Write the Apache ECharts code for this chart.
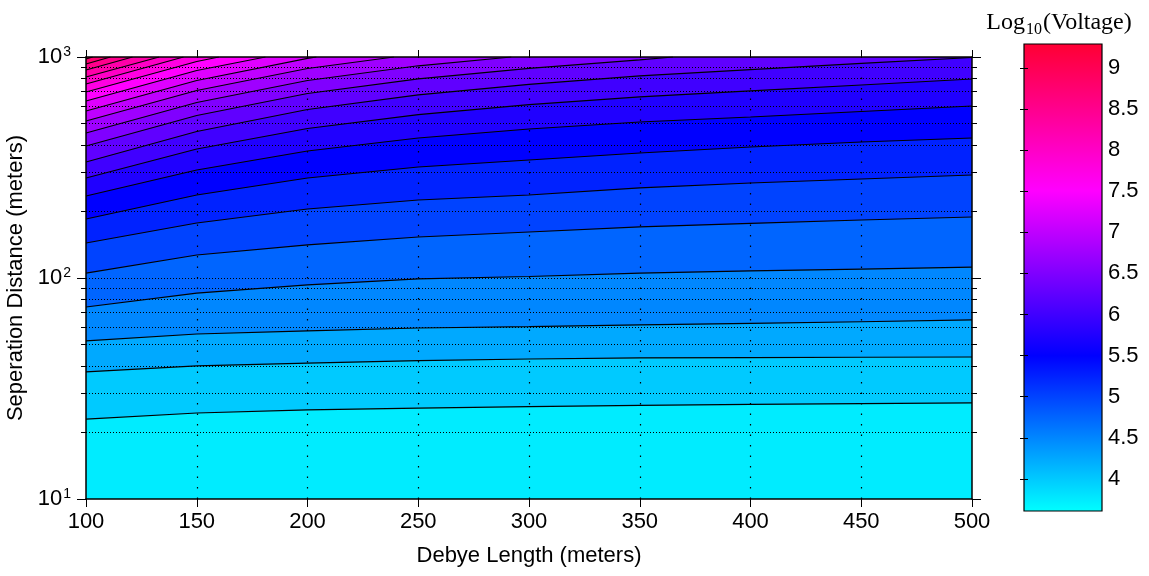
<!DOCTYPE html>
<html><head><meta charset="utf-8">
<script src="https://cdn.jsdelivr.net/npm/echarts@6/dist/echarts.min.js"></script>
<style>html,body{margin:0;padding:0;background:#fff}#c{width:1149px;height:576px}</style>
</head><body><div id="c"></div>
<script>
// ---------- data ----------
const debyeLengths = [100, 150, 200, 250, 300, 350, 400, 450, 500];
const contourLevels = [3.75, 4.0, 4.25, 4.5, 4.75, 5.0, 5.25, 5.5, 5.75, 6.0, 6.25, 6.5, 6.75, 7.0, 7.25, 7.5, 7.75, 8.0, 8.25, 8.5, 8.75];
// separation distance (m) of each contour at each Debye length (null = above 1000 m)
const contourY = [
  [23.0, 24.5, 25.3, 25.8, 26.2, 26.5, 26.8, 27.0, 27.2],
  [37.6, 40.0, 41.2, 42.3, 43.0, 43.5, 43.6, 43.8, 43.9],
  [51.9, 55.8, 57.6, 59.4, 60.2, 61.3, 62.3, 63.4, 64.6],
  [73.9, 85.5, 93.0, 99.0, 101.6, 105.3, 107.6, 109.8, 112.1],
  [105.3, 127.1, 141.1, 153.3, 161.5, 170.2, 176.5, 183.0, 188.8],
  [144.0, 177.4, 205.2, 225.4, 237.5, 255.5, 269.1, 280.5, 292.5],
  [184.9, 237.5, 283.5, 317.9, 342.0, 367.8, 391.5, 412.5, 430.0],
  [235.0, 308.1, 375.5, 430.0, 472.4, 508.0, 535.2, 566.8, 600.2],
  [283.5, 383.4, 474.9, 548.9, 608.4, 660.6, 702.4, 746.9, 795.2],
  [334.9, 460.2, 578.7, 674.5, 752.4, 821.2, 877.0, 936.5, 995.0],
  [395.6, 543.7, 683.6, 796.8, 889.0, 970.2, null, null, null],
  [453.1, 622.4, 782.8, 912.6, null, null, null, null, null],
  [513.3, 705.4, 887.2, null, null, null, null, null, null],
  [569.8, 782.8, 985.0, null, null, null, null, null, null],
  [632.3, 868.8, null, null, null, null, null, null, null],
  [694.4, 954.1, null, null, null, null, null, null, null],
  [754.7, null, null, null, null, null, null, null, null],
  [812.0, null, null, null, null, null, null, null, null],
  [873.4, null, null, null, null, null, null, null, null],
  [929.5, null, null, null, null, null, null, null, null],
  [979.5, null, null, null, null, null, null, null, null]
];
// Debye length where a contour leaves through the 1000 m edge (null = it does not)
const contourExitX = [null, null, null, null, null, null, null, null, null, null, 365, 292, 239, 204, 181, 160, 144, 133, 121, 111, 103];
// colour value of each filled band, bottom band first
const bandValues = [3.75, 4.0, 4.25, 4.5, 4.75, 5.0, 5.25, 5.5, 5.75, 6.0, 6.25, 6.5, 6.75, 7.0, 7.25, 7.5, 7.75, 8.0, 8.25, 8.5, 8.75, 9.1];
const xTicks = [100, 150, 200, 250, 300, 350, 400, 450, 500];
const yMajorTicks = [10, 100, 1000];
const yMinorTicks = [20, 30, 40, 50, 60, 70, 80, 90, 200, 300, 400, 500, 600, 700, 800, 900];
const yGridValues = [20, 30, 40, 50, 60, 70, 80, 90, 100, 200, 300, 400, 500, 600, 700, 800, 900];
const xGridValues = [150, 200, 250, 300, 350, 400, 450];
const colorbarTicks = [4, 4.5, 5, 5.5, 6, 6.5, 7, 7.5, 8, 8.5, 9];
const colorRange = [3.61, 9.29];

// ---------- styling ----------
const FONT = "'Liberation Sans', Arial, sans-serif";
const SERIF = "'Liberation Serif', 'DejaVu Serif', serif";
const cmapStops = [[3.61, [0, 255, 255]], [5.5, [0, 0, 255]], [7.5, [255, 0, 255]], [9.29, [255, 0, 50]]];
function cmap(v) {
  if (v <= cmapStops[0][0]) return 'rgb(' + cmapStops[0][1].join(',') + ')';
  for (let i = 1; i < cmapStops.length; i++) {
    if (v <= cmapStops[i][0]) {
      const a = cmapStops[i - 1], b = cmapStops[i];
      const t = (v - a[0]) / (b[0] - a[0]);
      const c = a[1].map((q, j) => Math.round(q + (b[1][j] - q) * t));
      return 'rgb(' + c.join(',') + ')';
    }
  }
  return 'rgb(' + cmapStops[cmapStops.length - 1][1].join(',') + ')';
}

function contourData(k) {
  const pts = [];
  contourY[k].forEach((y, i) => { if (y !== null) pts.push([debyeLengths[i], y]); });
  if (contourExitX[k] !== null) pts.push([contourExitX[k], 1000]);
  return pts;
}

const series = [];
contourLevels.forEach((lv, k) => {
  series.push({
    type: 'line', xAxisIndex: 0, yAxisIndex: 0, data: contourData(k),
    symbol: 'none', silent: true, z: 2,
    lineStyle: { width: 0, opacity: 0 },
    areaStyle: { color: cmap(bandValues[k + 1]), opacity: 1, origin: 'end' }
  });
});
contourLevels.forEach((lv, k) => {
  series.push({
    type: 'line', xAxisIndex: 0, yAxisIndex: 0, data: contourData(k),
    symbol: 'none', silent: true, z: 3,
    lineStyle: { color: '#000', width: 1.2 }
  });
});
// dotted grid
series.push({
  type: 'line', xAxisIndex: 0, yAxisIndex: 0, data: [[100, 10]], symbol: 'none', silent: true, z: 4,
  lineStyle: { opacity: 0 },
  markLine: {
    silent: true, symbol: 'none', label: { show: false }, animation: false,
    data: yGridValues.map(v => ({ yAxis: v, lineStyle: { color: '#000', width: 1, type: [1, 2] } }))
      .concat(xGridValues.map(v => ({ xAxis: v, lineStyle: { color: '#000', width: 1.2, type: [1.5, 9] } })))
  }
});
// colour bar
series.push({
  type: 'custom', xAxisIndex: 2, yAxisIndex: 4, data: [[0, 1, colorRange[0], colorRange[1]]], silent: true, z: 2,
  renderItem: function (params, api) {
    const p0 = api.coord([api.value(0), api.value(3)]);
    const p1 = api.coord([api.value(1), api.value(2)]);
    const span = colorRange[1] - colorRange[0];
    const stops = cmapStops.slice().reverse().map(s => ({ offset: (colorRange[1] - s[0]) / span, color: 'rgb(' + s[1].join(',') + ')' }));
    return {
      type: 'rect',
      shape: { x: p0[0], y: p0[1], width: p1[0] - p0[0], height: p1[1] - p0[1] },
      style: { fill: new echarts.graphic.LinearGradient(0, 0, 0, 1, stops), stroke: '#000', lineWidth: 1.2 }
    };
  }
});

const yLabelRich = {
  b: { fontSize: 22, fontFamily: FONT, color: '#000', lineHeight: 24 },
  s: { fontSize: 14, fontFamily: FONT, color: '#000', verticalAlign: 'top', lineHeight: 14, padding: [0, 0, 0, 1] }
};

const logAxisBase = { type: 'log', logBase: 10, min: 10, max: 1000, gridIndex: 0, splitLine: { show: false }, z: 10 };

const option = {
  animation: false,
  backgroundColor: '#fff',
  title: {
    text: '{a|Log}{b|10}{a|(Voltage)}',
    left: 1054, top: 3, textAlign: 'center',
    textStyle: {
      fontWeight: 'normal',
      rich: {
        a: { fontFamily: SERIF, fontSize: 24, fontWeight: 'normal', color: '#000', lineHeight: 30 },
        b: { fontFamily: SERIF, fontSize: 16, fontWeight: 'normal', color: '#000', verticalAlign: 'bottom', lineHeight: 15, padding: [0, 1, 0, 1] }
      }
    }
  },
  grid: [
    { left: 86, top: 57, width: 886, height: 442, show: true, backgroundColor: cmap(bandValues[0]), borderWidth: 0, outerBoundsMode: 'none', containLabel: false },
    { left: 1024, top: 44, width: 78, height: 467, show: false, outerBoundsMode: 'none', containLabel: false }
  ],
  xAxis: [
    { type: 'value', gridIndex: 0, position: 'bottom', min: 100, max: 500, interval: 50, z: 10,
      axisLine: { show: true, lineStyle: { color: '#000', width: 1.5 } },
      axisTick: { show: true, inside: false, length: 8, lineStyle: { color: '#000', width: 1 } },
      axisLabel: { fontSize: 22, fontFamily: FONT, color: '#000', margin: 12 },
      splitLine: { show: false },
      name: 'Debye Length (meters)', nameLocation: 'middle', nameGap: 46,
      nameTextStyle: { fontSize: 22, fontFamily: FONT, color: '#000' } },
    { type: 'value', gridIndex: 0, position: 'top', min: 100, max: 500, interval: 50, z: 10,
      axisLine: { show: true, lineStyle: { color: '#000', width: 1.5 } },
      axisTick: { show: true, inside: false, length: 7, lineStyle: { color: '#000', width: 1 } },
      axisLabel: { show: false }, splitLine: { show: false } },
    { type: 'value', gridIndex: 1, min: 0, max: 1, show: false }
  ],
  yAxis: [
    Object.assign({}, logAxisBase, {
      position: 'left',
      axisLine: { show: true, lineStyle: { color: '#000', width: 1.5 } },
      axisTick: { show: true, inside: false, length: 9, lineStyle: { color: '#000', width: 1 }, customValues: yMajorTicks },
      axisLabel: { margin: 15, formatter: v => '{b|10}{s|' + Math.round(Math.log10(v)) + '}', rich: yLabelRich, customValues: yMajorTicks },
      name: 'Seperation Distance (meters)', nameLocation: 'middle', nameGap: 58,
      nameTextStyle: { fontSize: 22, fontFamily: FONT, color: '#000' }
    }),
    Object.assign({}, logAxisBase, {
      position: 'left', axisLine: { show: false },
      axisTick: { show: true, inside: false, length: 5, lineStyle: { color: '#000', width: 1 }, customValues: yMinorTicks },
      axisLabel: { show: false }
    }),
    Object.assign({}, logAxisBase, {
      position: 'right',
      axisLine: { show: true, lineStyle: { color: '#000', width: 1.5 } },
      axisTick: { show: true, inside: false, length: 9, lineStyle: { color: '#000', width: 1 }, customValues: yMajorTicks },
      axisLabel: { show: false }
    }),
    Object.assign({}, logAxisBase, {
      position: 'right', axisLine: { show: false },
      axisTick: { show: true, inside: false, length: 5, lineStyle: { color: '#000', width: 1 }, customValues: yMinorTicks },
      axisLabel: { show: false }
    }),
    { type: 'value', gridIndex: 1, position: 'right', min: colorRange[0], max: colorRange[1], z: 10,
      axisLine: { show: false },
      axisTick: { show: true, inside: true, length: 4, lineStyle: { color: '#000', width: 1 }, customValues: colorbarTicks },
      axisLabel: { show: true, fontSize: 22, fontFamily: FONT, color: '#000', margin: 6, customValues: colorbarTicks, formatter: v => String(v), overflow: 'none' },
      splitLine: { show: false } },
    { type: 'value', gridIndex: 1, position: 'left', min: colorRange[0], max: colorRange[1], z: 10,
      axisLine: { show: false },
      axisTick: { show: true, inside: true, length: 4, lineStyle: { color: '#000', width: 1 }, customValues: colorbarTicks },
      axisLabel: { show: false }, splitLine: { show: false } }
  ],
  series: series
};

const chart = echarts.init(document.getElementById('c'), null, { renderer: 'canvas' });
chart.setOption(option);
</script></body></html>
